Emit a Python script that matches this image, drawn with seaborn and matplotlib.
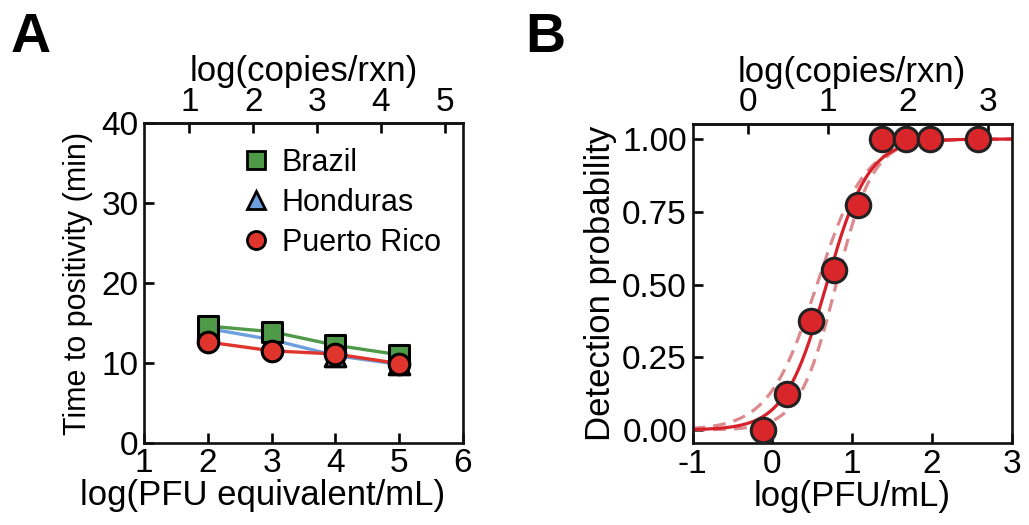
import numpy as np
import pandas as pd
import seaborn as sns
from matplotlib import pyplot as plt
from matplotlib.lines import Line2D

sns.set_theme(style='ticks')
plt.rcParams['font.family'] = ['Liberation Sans', 'DejaVu Sans']
plt.rcParams['axes.unicode_minus'] = False
for k in ('text.color', 'axes.labelcolor', 'xtick.color', 'ytick.color'):
    plt.rcParams[k] = 'black'

# A: time to positivity per strain
dose = [2, 3, 4, 5]
brazil = [14.6, 13.9, 12.2, 11.0]
honduras = [14.3, 12.9, 10.9, 9.8]
puerto_rico = [12.6, 11.5, 11.1, 9.9]
strains = ['Brazil', 'Honduras', 'Puerto Rico']
colors = {'Brazil': '#4f9a48', 'Honduras': '#6d9ede', 'Puerto Rico': '#e0352c'}
markers = {'Brazil': 's', 'Honduras': '^', 'Puerto Rico': 'o'}
copies_offset_a = 0.71  # log(copies/rxn) = log(PFU eq/mL) - offset

# B: detection probability
log_pfu = [-0.12, 0.18, 0.48, 0.78, 1.08, 1.38, 1.68, 1.98, 2.58]
detect = [0.0, 0.125, 0.375, 0.55, 0.775, 1.0, 1.0, 1.0, 1.0]
fit_mid, fit_slope = 0.68, 3.8
ci_upper_mid, ci_upper_slope = 0.56, 3.3
ci_lower_mid, ci_lower_slope = 0.80, 4.3
copies_offset_b = 0.3  # log(copies/rxn) = log(PFU/mL) + offset

df = pd.DataFrame({
    'dose': dose * 3,
    'ttp': brazil + honduras + puerto_rico,
    'strain': [s for s in strains for _ in dose],
})

fig = plt.figure(figsize=(10.29, 5.25), dpi=100)
axA = fig.add_axes([0.140, 0.157, 0.310, 0.608])
axB = fig.add_axes([0.673, 0.156, 0.310, 0.608])

fs = 24
lw = 1.9

# ---- panel A
sns.lineplot(data=df, x='dose', y='ttp', hue='strain', palette=colors,
             legend=False, linewidth=2.4, ax=axA)
for s in ['Honduras', 'Brazil', 'Puerto Rico']:
    sub = df[df.strain == s]
    sns.scatterplot(data=sub, x='dose', y='ttp', color=colors[s], marker=markers[s],
                    s=220, edgecolor='black', linewidth=2.2, zorder=5, ax=axA)
axA.set_xlim(1, 6)
axA.set_ylim(0, 40)
axA.set_xticks([1, 2, 3, 4, 5, 6])
axA.set_yticks([0, 10, 20, 30, 40])
axA.set_xlabel('log(PFU equivalent/mL)', fontsize=25)
axA.xaxis.set_label_coords(0.37, -0.115)
axA.set_ylabel('Time to positivity (min)', fontsize=22, labelpad=6)
topA = axA.secondary_xaxis('top', functions=(lambda x: x - copies_offset_a,
                                             lambda x: x + copies_offset_a))
topA.set_xticks([1, 2, 3, 4, 5])
topA.set_xlabel('log(copies/rxn)', fontsize=25, labelpad=4)

handles = [Line2D([], [], linestyle='none', marker=markers[s], markersize=13,
                  markerfacecolor=colors[s], markeredgecolor='black',
                  markeredgewidth=2.0, label=s) for s in strains]
axA.legend(handles=handles, loc='upper left', bbox_to_anchor=(0.24, 0.98),
           frameon=False, fontsize=22, handletextpad=0.3, labelspacing=0.32,
           borderaxespad=0.2, handlelength=1.1)

# ---- panel B
xs = np.linspace(-1, 3, 400)
fit = 1 / (1 + np.exp(-fit_slope * (xs - fit_mid)))
ci_hi = 1 / (1 + np.exp(-ci_upper_slope * (xs - ci_upper_mid)))
ci_lo = 1 / (1 + np.exp(-ci_lower_slope * (xs - ci_lower_mid)))
sns.lineplot(x=xs, y=ci_hi, color='#dc8a8e', linewidth=2.3, linestyle=(0, (4, 2.5)), ax=axB)
sns.lineplot(x=xs, y=ci_lo, color='#dc8a8e', linewidth=2.3, linestyle=(0, (4, 2.5)), ax=axB)
sns.lineplot(x=xs, y=fit, color='#d7202a', linewidth=2.3, ax=axB)
sns.scatterplot(x=log_pfu, y=detect, color='#d9262b', s=310, edgecolor='#222222',
                linewidth=2.2, zorder=5, clip_on=False, ax=axB)
axB.set_xlim(-1, 3)
axB.set_ylim(-0.045, 1.052)
axB.set_xticks([-1, 0, 1, 2, 3])
axB.set_yticks([0, 0.25, 0.5, 0.75, 1.0])
axB.set_yticklabels(['0.00', '0.25', '0.50', '0.75', '1.00'])
axB.set_xlabel('log(PFU/mL)', fontsize=25, labelpad=0)
axB.set_ylabel('Detection probability', fontsize=25, labelpad=4)
topB = axB.secondary_xaxis('top', functions=(lambda x: x + copies_offset_b,
                                             lambda x: x - copies_offset_b))
topB.set_xticks([0, 1, 2, 3])
topB.set_xlabel('log(copies/rxn)', fontsize=25, labelpad=4)

for ax in (axA, axB):
    for sp in ax.spines.values():
        sp.set_visible(True)
        sp.set_linewidth(lw)
        sp.set_color('#111111')
    ax.tick_params(direction='in', length=7, width=lw, labelsize=fs, pad=4,
                   colors='black')
    ax.set_facecolor('white')
for t in (topA, topB):
    t.tick_params(direction='in', length=7, width=lw, labelsize=fs, pad=4)
    t.spines['top'].set_linewidth(lw)

fig.text(0.010, 0.900, 'A', fontsize=40, fontweight='bold')
fig.text(0.510, 0.900, 'B', fontsize=40, fontweight='bold')

fig.savefig('out.png', dpi=100, facecolor='white')
